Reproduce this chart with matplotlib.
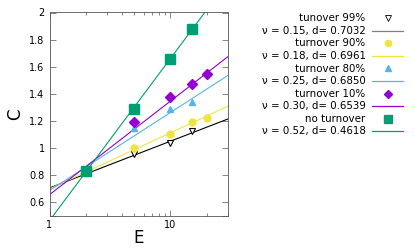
import numpy as np
import matplotlib.pyplot as plt
from matplotlib.lines import Line2D
from matplotlib.ticker import LogLocator, NullFormatter, FixedLocator

# measured points (E, C) per turnover level
E_99 = [2, 5, 10, 15]
C_99 = [0.82, 0.958, 1.037, 1.126]
E_90 = [2, 5, 10, 15, 20]
C_90 = [0.815, 1.0, 1.10, 1.19, 1.217]
E_80 = [2, 5, 10, 15]
C_80 = [0.83, 1.143, 1.284, 1.34]
E_10 = [2, 5, 10, 15, 20]
C_10 = [0.83, 1.19, 1.373, 1.472, 1.546]
E_00 = [2, 5, 10, 15]
C_00 = [0.832, 1.284, 1.66, 1.88]

# fit parameters: C = nu * ln(E) + d
nus = [0.15, 0.18, 0.25, 0.30, 0.52]
ds = [0.7032, 0.6961, 0.6850, 0.6539, 0.4618]
labels = ["tunover 99%", "turnover 90%", "turnover 80%", "turnover 10%", "no turnover"]

colors = ["black", "#f0e442", "#56b4e9", "#9400d3", "#009e73"]
legend_line_colors = ["#808080", "#f0e442", "#56b4e9", "#9400d3", "#009e73"]
markers = ["v", "o", "^", "D", "s"]
sizes = [5, 5, 5, 5, 6.5]
data = [(E_99, C_99), (E_90, C_90), (E_80, C_80), (E_10, C_10), (E_00, C_00)]

fig = plt.figure(figsize=(4.15, 2.49), dpi=100)
ax = fig.add_axes([49.5 / 415, 1 - 215.5 / 249, (228 - 49.5) / 415, (215.5 - 12.5) / 249])

x = np.logspace(0, np.log10(30), 200)
for i in range(5):
    ax.plot(x, nus[i] * np.log(x) + ds[i], color=colors[i], lw=0.8, zorder=2)
for i in range(5):
    e, c = data[i]
    if i == 0:
        ax.plot(e, c, ls="none", marker="v", ms=5, mfc="white", mec="black", mew=0.8, zorder=3)
    else:
        ax.plot(e, c, ls="none", marker=markers[i], ms=sizes[i], color=colors[i], zorder=3)

ax.set_xscale("log")
ax.set_xlim(1, 30)
ax.set_ylim(0.5, 2.0)
ax.xaxis.set_major_locator(FixedLocator([1, 10]))
ax.set_xticklabels(["1", "10"])
ax.xaxis.set_minor_locator(LogLocator(base=10, subs=np.arange(2, 10)))
ax.xaxis.set_minor_formatter(NullFormatter())
ax.set_yticks([0.5, 0.6, 0.8, 1.0, 1.2, 1.4, 1.6, 1.8, 2.0])
ax.set_yticklabels(["", "0.6", "0.8", "1", "1.2", "1.4", "1.6", "1.8", "2"])
ax.tick_params(which="both", direction="in", top=True, right=True, labelsize=7, width=0.5, color="#555555")
ax.tick_params(which="major", length=4)
ax.tick_params(which="minor", length=2)
for s in ax.spines.values():
    s.set_linewidth(0.6)
    s.set_color("#555555")
ax.set_xlabel("E", fontsize=12, labelpad=-1)
ax.set_ylabel("C", fontsize=12, labelpad=4)

# gnuplot-like key on the right
text_x = 365.5 / 415
line_x0 = 372 / 415
line_x1 = 403 / 415
mark_x = 387.7 / 415
for i in range(5):
    y1 = 1 - (18.3 + 25.1 * i) / 249
    y2 = 1 - (31 + 25.1 * i) / 249
    fig.text(text_x, y1, labels[i], ha="right", va="center", fontsize=7.4)
    fig.text(text_x, y2, "ν = %.2f, d= %.4f" % (nus[i], ds[i]), ha="right", va="center", fontsize=7.4)
    if i == 0:
        fig.add_artist(Line2D([mark_x], [y1], ls="none", marker="v", ms=5, mfc="white", mec="black", mew=0.6))
    else:
        fig.add_artist(Line2D([mark_x], [y1], ls="none", marker=markers[i], ms=sizes[i] - 0.5, color=colors[i]))
    fig.add_artist(Line2D([line_x0, line_x1], [y2, y2], color=legend_line_colors[i], lw=0.9))

fig.savefig("out.png", dpi=100)
